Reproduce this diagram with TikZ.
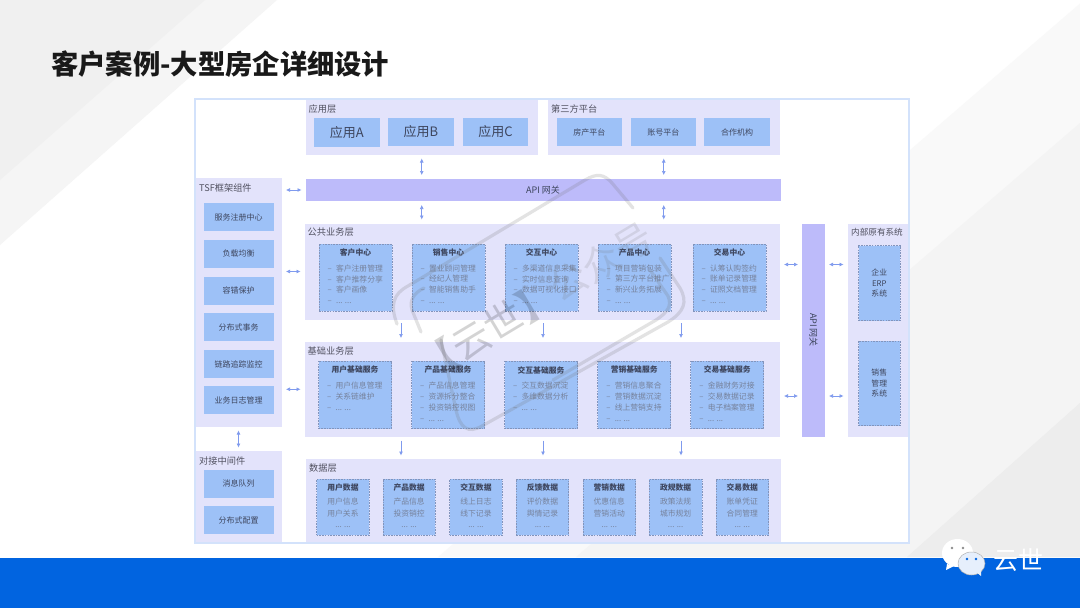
\documentclass[tikz,border=0pt]{standalone}
\usepackage{fontspec}
\setmainfont{Noto Sans CJK SC}
\usetikzlibrary{arrows.meta}

\definecolor{panelc}{HTML}{E3E3FB}
\definecolor{blockc}{HTML}{9DC1F7}
\definecolor{gatec}{HTML}{BDBBFA}
\definecolor{framec}{HTML}{D3E2FB}
\definecolor{linkc}{HTML}{7F9AEE}
\definecolor{dashc}{HTML}{8294BC}
\definecolor{labelc}{HTML}{50505F}
\definecolor{headc}{HTML}{3E465E}
\definecolor{itemc}{HTML}{76829C}
\definecolor{bandc}{HTML}{0164E0}

\newcommand{\dsh}{\makebox[8.4pt][l]{–}}

\tikzset{
	xyxy/.style args={#1:#2:#3:#4}{anchor=north west,at={(#1,#2)},inner sep=0,outer sep=0,
		minimum width={(#3-#1)*1pt},minimum height={(#4-#2)*1pt}},
	panel/.style={xyxy=#1,fill=panelc},
	block/.style={xyxy=#1,fill=blockc,text=headc,font=\fontsize{8}{10}\selectfont,align=center},
	dashblock/.style={block=#1,draw=dashc,dashed,line width=0.6pt,dash pattern=on 1.6pt off 1.1pt},
	gate/.style={xyxy=#1,fill=gatec,text=headc,font=\fontsize{9}{11}\selectfont},
	layertxt/.style={anchor=west,inner sep=0,text=labelc,font=\fontsize{9.2}{11}\selectfont},
	headtxt/.style={inner sep=0,text=headc,font=\fontsize{7.8}{10}\selectfont\bfseries},
	itemtxt/.style={anchor=north west,inner sep=0,text=itemc,align=left,font=\fontsize{7.8}{10.9}\selectfont},
	datatxt/.style={anchor=north,inner sep=0,text=itemc,align=center,font=\fontsize{7.8}{11.5}\selectfont},
	bilink/.style={<->,>={Latex[length=4pt,width=4pt]},linkc,line width=0.7pt,shorten >=#1,shorten <=#1},
	downlink/.style={->,>={Latex[length=4pt,width=4pt]},linkc,line width=0.7pt,shorten >=#1,shorten <=#1},
	stamp/.style={black!55,opacity=0.2,line width=3.2pt,line cap=round},
}

\begin{document}
\begin{tikzpicture}[x=1pt,y=-1pt]
	\useasboundingbox (0,0) rectangle (1080,608);

	%slide background
	\fill[white] (0,0) rectangle (1080,608);
	\fill[black!4] (0,0) -- (277,0) -- (0,245) -- cycle;
	\fill[black!6] (0,0) -- (205,0) -- (0,180) -- cycle;
	\fill[black!2.5] (1080,3.5) -- (438,557) -- (1080,557) -- cycle;
	\fill[black!4.5] (1080,123) -- (576,557) -- (1080,557) -- cycle;
	\fill[black!7] (1080,403) -- (907,557) -- (1080,557) -- cycle;

	%title
	\node[anchor=west,inner sep=0,font=\fontsize{27.3}{30}\selectfont\bfseries,text=black!90] (title) at (51,64) {客户案例-大型房企详细设计};

	%frame
	\node[xyxy=195:99:909:543,fill=white] (frame) {};

	%top layers
	\node[panel=305.5:100:538:154.5] (applayer) {};
	\node[layertxt] (applabel) at (308.5,109) {应用层};
	\node[block=314:118:379.5:147,font=\fontsize{13}{15}\selectfont] (appa) {\raisebox{-2pt}{应用A}};
	\node[block=388:118:454:146,font=\fontsize{13}{15}\selectfont] (appb) {应用B};
	\node[block=463:118:528:146,font=\fontsize{13}{15}\selectfont] (appc) {应用C};

	\node[panel=547.5:100:780:154.5] (partylayer) {};
	\node[layertxt] (partylabel) at (551,109) {第三方平台};
	\node[block=556.5:118:622:146] (estate) {房产平台};
	\node[block=630.5:118:696:146] (account) {账号平台};
	\node[block=704:118:770:146] (partner) {合作机构};

	\node[gate=305.5:179:780.5:201] (apigw) {API 网关};

	%TSF column
	\node[panel=195:178:282:427] (tsf) {};
	\node[layertxt] (tsflabel) at (199,188) {TSF框架组件};
	\foreach \nm/\yy/\txt in {reg/203/服务注册中心,lb/239.7/负载均衡,fault/276.7/容错保护,tx/313/分布式事务,trace/350/链路追踪监控,log/386/业务日志管理}
		\node[xyxy=203.5:\yy:273.5:\yy+28,fill=blockc,text=headc,font=\fontsize{8}{10}\selectfont] (\nm) {\txt};

	\node[panel=195:451:282:543] (mid) {};
	\node[layertxt] (midlabel) at (199,461) {对接中间件};
	\node[block=203.5:469.5:273.5:497.5] (mq) {消息队列};
	\node[block=203.5:506:273.5:534] (conf) {分布式配置};

	%public layer
	\node[panel=304.5:223.5:780:319.5] (publiclayer) {};
	\node[layertxt] (publiclabel) at (307.5,232.5) {公共业务层};
	\foreach \nm/\xx/\ttl/\lst in {
		cust/319/客户中心/{\dsh 客户注册管理\\\dsh 客户推荐分享\\\dsh 客户画像\\\dsh ... ...},
		sale/412/销售中心/{\dsh 置业顾问管理\\\dsh 经纪人管理\\\dsh 智能销售助手\\\dsh ... ...},
		inter/505/交互中心/{\dsh 多渠道信息采集\\\dsh 实时信息查询\\\dsh 数据可视化接口\\\dsh ... ...},
		prod/598/产品中心/{\dsh 项目营销包装\\\dsh 第三方平台推广\\\dsh 新兴业务拓展\\\dsh ... ...},
		deal/693/交易中心/{\dsh 认筹认购签约\\\dsh 账单记录管理\\\dsh 证照文档管理\\\dsh ... ...}}{
		\node[dashblock=\xx:244:\xx+73:311] (\nm) {};
		\node[headtxt] (\nm-h) at ([yshift=-8.7pt]\nm.north) {\ttl};
		\node[itemtxt] (\nm-l) at ([xshift=8.5pt,yshift=-20.3pt]\nm.north west) {\lst};
	}

	%base layer
	\node[panel=304.5:341.5:780:437] (baselayer) {};
	\node[layertxt] (baselabel) at (307.5,351) {基础业务层};
	\foreach \nm/\xx/\ttl/\lst in {
		ucore/318.5/用户基础服务/{\dsh 用户信息管理\\\dsh 关系链维护\\\dsh ... ...},
		pcore/411.5/产品基础服务/{\dsh 产品信息管理\\\dsh 资源拆分整合\\\dsh 投资销控视图\\\dsh ... ...},
		icore/504.5/交互基础服务/{\dsh 交互数据沉淀\\\dsh 多维数据分析\\\dsh ... ...},
		mcore/597.7/营销基础服务/{\dsh 营销信息聚合\\\dsh 营销数据沉淀\\\dsh 线上营销支持\\\dsh ... ...},
		dcore/690.7/交易基础服务/{\dsh 金融财务对接\\\dsh 交易数据记录\\\dsh 电子档案管理\\\dsh ... ...}}{
		\node[dashblock=\xx:361:\xx+73:428.5] (\nm) {};
		\node[headtxt] (\nm-h) at ([yshift=-9pt]\nm.north) {\ttl};
		\node[itemtxt] (\nm-l) at ([xshift=8.5pt,yshift=-21pt]\nm.north west) {\lst};
	}

	%data layer
	\node[panel=306:459:780.5:543] (datalayer) {};
	\node[layertxt] (datalabel) at (309,468) {数据层};
	\foreach \nm/\xx/\ttl/\lst in {
		udata/316.7/用户数据/{用户信息\\用户关系\\... ...},
		pdata/382.9/产品数据/{产品信息\\投资销控\\... ...},
		idata/449.7/交互数据/{线上日志\\线下记录\\... ...},
		fdata/516.2/反馈数据/{评价数据\\舆情记录\\... ...},
		mdata/583/营销数据/{优惠信息\\营销活动\\... ...},
		gdata/649.4/政规数据/{政策法规\\城市规划\\... ...},
		tdata/716/交易数据/{账单凭证\\合同管理\\... ...}}{
		\node[dashblock=\xx:479:\xx+52.5:535] (\nm) {};
		\node[headtxt] (\nm-h) at ([yshift=-8.3pt]\nm.north) {\ttl};
		\node[datatxt] (\nm-l) at ([yshift=-18.8pt]\nm.north) {\lst};
	}

	%right side
	\node[gate=802:223.5:825:436.5] (apiside) {};
	\node[inner sep=0,rotate=-90,text=headc,font=\fontsize{9}{11}\selectfont] (apisidetxt) at (apiside.center) {API 网关};
	\node[panel=847.5:223.5:909:436.5] (inner) {};
	\node[layertxt,font=\fontsize{8.6}{10}\selectfont] (innerlabel) at (851,232.5) {内部原有系统};
	\node[dashblock=858.5:245.5:900:320.5,font=\fontsize{7.8}{10.5}\selectfont] (erp) {企业\\ERP\\系统};
	\node[dashblock=858.5:341:900:425.5,font=\fontsize{7.8}{10.5}\selectfont] (salesys) {销售\\管理\\系统};

	%frame line on top of the panels
	\draw[framec,line width=1.1pt] (frame.north west) rectangle (frame.south east);

	%links
	\coordinate (drop1) at (401,330);
	\coordinate (drop2) at (543,330);
	\coordinate (drop3) at (681,330);
	\coordinate (side1) at (790,264.5);
	\coordinate (side2) at (790,396);
	\draw[bilink=4pt] (applayer.south) -- (apigw.north -| applayer.south);
	\draw[bilink=4pt] (partylayer.south) -- (apigw.north -| partylayer.south);
	\draw[bilink=4pt] (apigw.south -| applayer.south) -- (publiclayer.north -| applayer.south);
	\draw[bilink=4pt] (apigw.south -| partylayer.south) -- (publiclayer.north -| partylayer.south);
	\draw[bilink=4pt] (tsf.east |- apigw.west) -- (apigw.west);
	\draw[bilink=4pt] (tsf.east |- publiclayer.west) -- (publiclayer.west);
	\draw[bilink=4pt] (tsf.east |- baselayer.west) -- (baselayer.west);
	\draw[bilink=3.5pt] (tsf.south) -- (mid.north);
	\draw[bilink=4pt] (publiclayer.east |- side1) -- (apiside.west |- side1);
	\draw[bilink=4pt] (baselayer.east |- side2) -- (apiside.west |- side2);
	\draw[bilink=4pt] (apiside.east |- side1) -- (inner.west |- side1);
	\draw[bilink=4pt] (apiside.east |- side2) -- (inner.west |- side2);
	\foreach \dd in {drop1,drop2,drop3}{
		\draw[downlink=3.5pt] (publiclayer.south -| \dd) -- (baselayer.north -| \dd);
		\draw[downlink=3.5pt] (baselayer.south -| \dd) -- (datalayer.north -| \dd);
	}

	%stamp over the diagram
	\draw[stamp] (397,324) .. controls (390,305) and (393,294) .. (408,286) -- (585,180) .. controls (597,173) and (604,174) .. (612,183) -- (633,208);
	\draw[stamp] (421,332) -- (412,310) .. controls (409,300) and (414,293) .. (424,288);
	\draw[stamp] (441,340) -- (456,410) .. controls (460,428) and (468,434) .. (482,426) -- (668,322) .. controls (684,312) and (688,302) .. (680,288) -- (660,258);
	\draw[stamp] (553,380) -- (656,320) .. controls (668,312) and (672,306) .. (668,296) -- (650,270);
	\node[inner sep=0,rotate=31,opacity=0.17,text=black,font=\fontsize{38}{40}\selectfont] (stamptxt) at (536,301) {【云世】\textcolor{black!55}{公众号}};

	%bottom band
	\fill[bandc] (0,557.5) rectangle (1080,608);
	\fill[white] (957.5,553) ellipse [x radius=15.5,y radius=14];
	\fill[white] (947,564) -- (946,570) -- (954,566) -- cycle;
	\fill[black!45] (952,548) circle (1.3) (963,548) circle (1.3);
	\filldraw[fill=white!90!bandc,draw=black!30,line width=0.5pt] (971.5,563.5) ellipse [x radius=13.5,y radius=11.5];
	\fill[white!90!bandc] (976,572) -- (981,576) -- (981,570) -- cycle;
	\fill[bandc] (967,559) circle (1.3) (976,559) circle (1.3);
	\node[inner sep=0,text=white,font=\fontsize{25}{28}\selectfont] (brand) at (1018.5,560.5) {云世};
\end{tikzpicture}
\end{document}
